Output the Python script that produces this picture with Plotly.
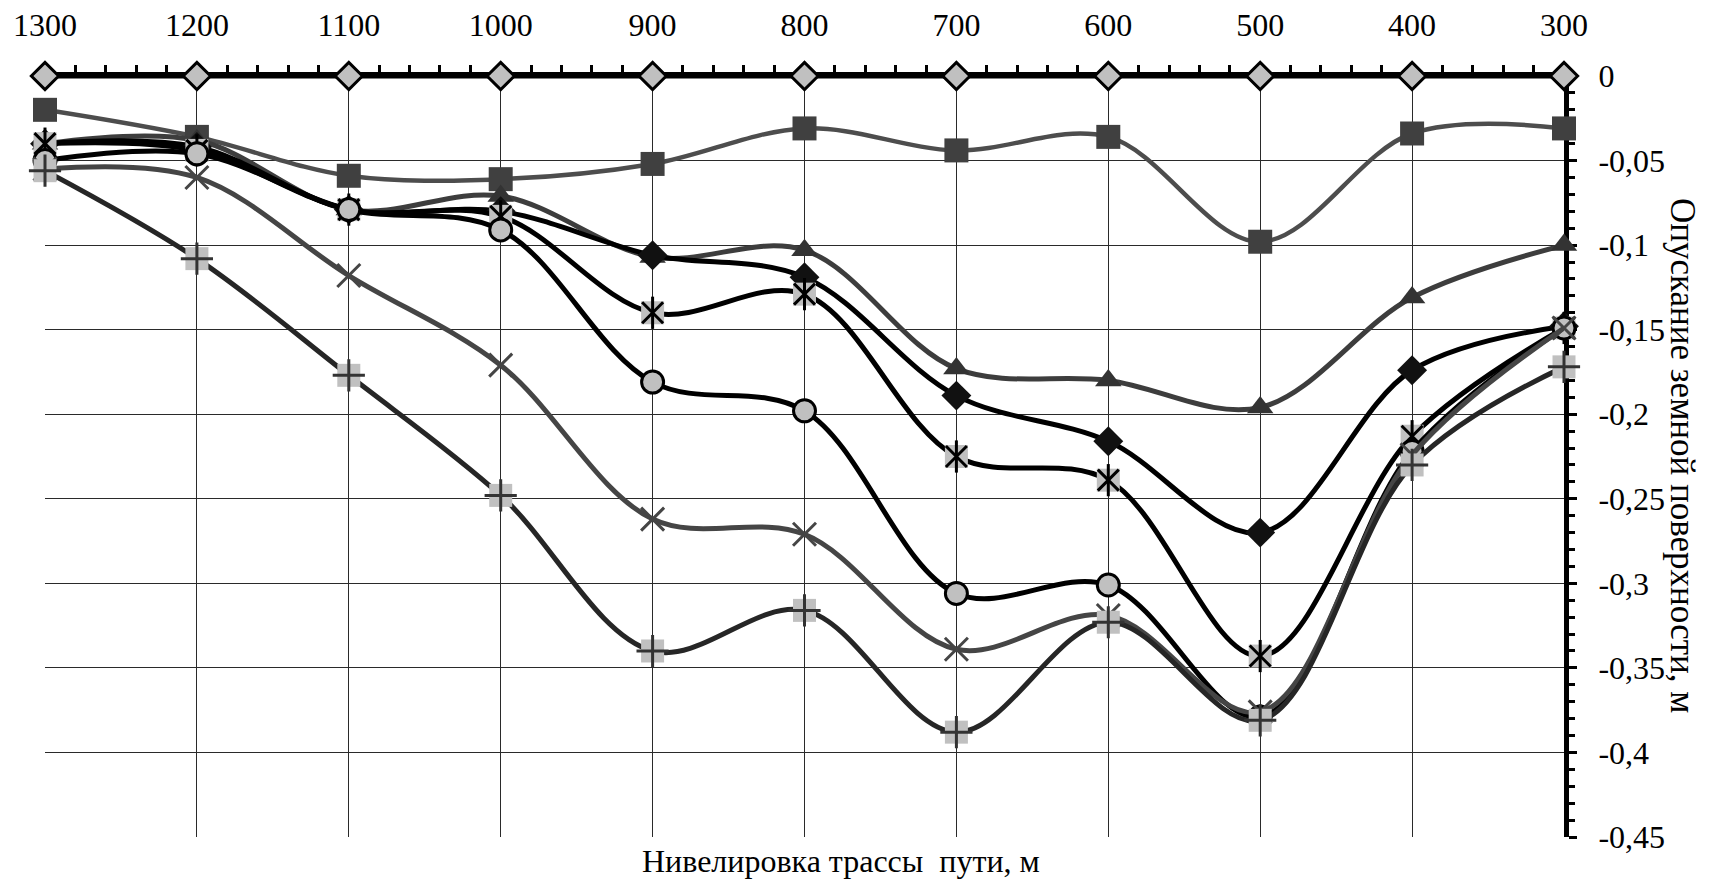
import plotly.graph_objects as go

# ---- data ----
x_vals = [1300, 1200, 1100, 1000, 900, 800, 700, 600, 500, 400, 300]
zero_line = [0, 0, 0, 0, 0, 0, 0, 0, 0, 0, 0]
s_square = [-0.020, -0.036, -0.059, -0.061, -0.052, -0.031, -0.044, -0.036, -0.098, -0.034, -0.031]
s_triangle = [-0.040, -0.038, -0.079, -0.071, -0.107, -0.103, -0.173, -0.180, -0.196, -0.131, -0.100]
s_diamond = [-0.040, -0.042, -0.079, -0.080, -0.106, -0.119, -0.189, -0.216, -0.270, -0.174, -0.148]
s_asterisk = [-0.040, -0.044, -0.079, -0.083, -0.140, -0.129, -0.225, -0.239, -0.343, -0.213, -0.149]
s_circle = [-0.050, -0.046, -0.079, -0.091, -0.181, -0.198, -0.306, -0.301, -0.379, -0.222, -0.149]
s_cross = [-0.055, -0.060, -0.118, -0.171, -0.262, -0.271, -0.339, -0.319, -0.376, -0.224, -0.149]
s_plus = [-0.056, -0.108, -0.177, -0.248, -0.340, -0.316, -0.388, -0.323, -0.381, -0.230, -0.172]

x_ticks = [1300, 1200, 1100, 1000, 900, 800, 700, 600, 500, 400, 300]
x_ticktext = ["1300", "1200", "1100", "1000", "900", "800", "700", "600", "500", "400", "300"]
y_ticks = [0, -0.05, -0.1, -0.15, -0.2, -0.25, -0.3, -0.35, -0.4, -0.45]
y_ticktext = ["0", "-0,05", "-0,1", "-0,15", "-0,2", "-0,25", "-0,3", "-0,35", "-0,4", "-0,45"]

x_title = "Нивелировка трассы\u00a0 пути, м"
y_title = "Опускание земной поверхности, м"

FONT = "Liberation Serif"

fig = go.Figure()


def add_line(y, color, width=5):
    fig.add_trace(go.Scatter(
        x=x_vals, y=y, mode="lines",
        line=dict(color=color, width=width, shape="spline", smoothing=1.0),
        hoverinfo="skip", showlegend=False, cliponaxis=False))


def add_markers(y, symbol, size, color, lcolor=None, lwidth=0):
    fig.add_trace(go.Scatter(
        x=x_vals, y=y, mode="markers",
        marker=dict(symbol=symbol, size=size, color=color,
                    line=dict(color=lcolor if lcolor else color, width=lwidth)),
        hoverinfo="skip", showlegend=False, cliponaxis=False))


# squares
add_line(s_square, "#4d4d4d", 4.5)
add_markers(s_square, "square", 24, "#404040")
# triangles
add_line(s_triangle, "#3d3d3d")
add_markers(s_triangle, "triangle-up", 23, "#333333")
# black diamonds
add_line(s_diamond, "#000000")
add_markers(s_diamond, "diamond", 23, "#111111")
# asterisk on grey square
add_line(s_asterisk, "#000000")
add_markers(s_asterisk, "square", 23, "#c0c0c0")
add_markers(s_asterisk, "x-thin-open", 21, "#000000", "#000000", 3)
add_markers(s_asterisk, "line-ns-open", 23, "#000000", "#000000", 3)
# circles
add_line(s_circle, "#000000")
add_markers(s_circle, "circle", 22, "#c0c0c0", "#000000", 3)
# x markers
add_line(s_cross, "#454545")
add_markers(s_cross, "x-thin-open", 23, "#454545", "#454545", 3)
# plus on grey square
add_line(s_plus, "#262626")
add_markers(s_plus, "square", 23, "#c0c0c0")
add_markers(s_plus, "cross-thin-open", 23, "#333333", "#333333", 3)
# zero line with diamonds
add_line(zero_line, "#000000", 5)
add_markers(zero_line, "diamond", 21, "#c0c0c0", "#000000", 3)

L, R, T, B = 45, 146, 76, 47
W, H = 1710, 884
pw = W - L - R
ph = H - T - B

fig.update_layout(
    width=W, height=H,
    margin=dict(l=L, r=R, t=T, b=B, pad=0, autoexpand=False),
    paper_bgcolor="white", plot_bgcolor="white",
    font=dict(family=FONT, size=32, color="black"),
    showlegend=False,
    xaxis=dict(
        range=[1300, 300], side="top", automargin=False,
        tickmode="array", tickvals=x_ticks, ticktext=x_ticktext,
        showgrid=True, gridcolor="#2a2a2a", gridwidth=1,
        showline=True, linecolor="black", linewidth=4,
        ticks="outside", ticklen=7, tickwidth=3, tickcolor="black",
        ticklabelstandoff=16,
        minor=dict(tickmode="linear", tick0=300, dtick=20, ticks="outside",
                   ticklen=7, tickwidth=3, tickcolor="black", showgrid=False),
        zeroline=False, layer="below traces",
        tickfont=dict(family=FONT, size=32, color="black"),
    ),
    yaxis=dict(
        range=[-0.45, 0], side="right", automargin=False,
        tickmode="array", tickvals=y_ticks, ticktext=y_ticktext,
        showgrid=True, gridcolor="#2a2a2a", gridwidth=1,
        showline=True, linecolor="black", linewidth=5,
        ticks="outside", ticklen=8, tickwidth=3, tickcolor="black",
        ticklabelstandoff=15,
        minor=dict(tickmode="linear", tick0=0, dtick=0.01, ticks="outside",
                   ticklen=6, tickwidth=3, tickcolor="black", showgrid=False),
        zeroline=False, layer="below traces",
        tickfont=dict(family=FONT, size=32, color="black"),
    ),
    annotations=[
        dict(text=x_title, xref="paper", yref="paper",
             x=(841 - L) / pw, y=(H - B - 861) / ph,
             xanchor="center", yanchor="middle", showarrow=False,
             font=dict(family=FONT, size=32, color="black")),
        dict(text=y_title, xref="paper", yref="paper",
             x=(1682 - L) / pw, y=(H - B - 455) / ph,
             xanchor="center", yanchor="middle", showarrow=False, textangle=90,
             font=dict(family=FONT, size=35, color="black")),
    ],
)

fig.write_html("out.html")
